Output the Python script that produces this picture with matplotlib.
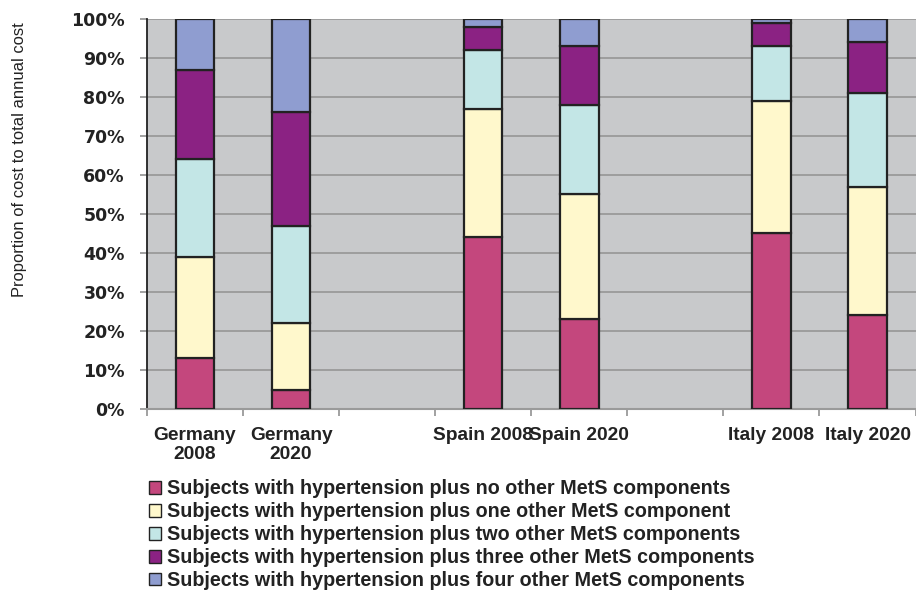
import numpy as np
import matplotlib
matplotlib.use("Agg")
import matplotlib.pyplot as plt

# categories along the x axis (blank slots separate the countries)
categories = ['Germany\n2008', 'Germany\n2020', '', 'Spain 2008', 'Spain 2020',
              '', 'Italy 2008', 'Italy 2020']

# share of total annual cost (%) for each group, nan for blank slots
no_other = [13, 5, np.nan, 44, 23, np.nan, 45, 24]
one_other = [26, 17, np.nan, 33, 32, np.nan, 34, 33]
two_other = [25, 25, np.nan, 15, 23, np.nan, 14, 24]
three_other = [23, 29, np.nan, 6, 15, np.nan, 6, 13]
four_other = [13, 24, np.nan, 2, 7, np.nan, 1, 6]

series_names = [
    'Subjects with hypertension plus no other MetS components',
    'Subjects with hypertension plus one other MetS component',
    'Subjects with hypertension plus two other MetS components',
    'Subjects with hypertension plus three other MetS components',
    'Subjects with hypertension plus four other MetS components',
]
colors = ['#c4477d', '#fff8cc', '#c3e6e6', '#8b2283', '#8f9dd0']

series = [no_other, one_other, two_other, three_other, four_other]

fig = plt.figure(figsize=(9.16, 5.94), dpi=100)
ax = fig.add_axes([0.1605, 0.3114, 0.839, 0.657])
ax.set_facecolor('#c8c9cb')

x = np.arange(len(categories))
bottom = np.zeros(len(categories))
for vals, name, col in zip(series, series_names, colors):
    vals = np.array(vals, dtype=float)
    mask = ~np.isnan(vals)
    ax.bar(x[mask], vals[mask], width=0.4, bottom=bottom[mask], color=col,
           edgecolor='#222222', linewidth=1.6, label=name, zorder=3)
    bottom[mask] += vals[mask]

ax.set_xlim(-0.5, len(categories) - 0.5)
ax.set_ylim(0, 100)
ax.set_yticks(np.arange(0, 101, 10))
ax.set_yticklabels(['%d%%' % v for v in range(0, 101, 10)],
                   fontfamily='DejaVu Sans', fontweight='bold', fontsize=12.5)
ax.yaxis.grid(True, color='#9a9a9a', linewidth=1.3, zorder=0)
ax.set_axisbelow(True)

# ticks on the slot boundaries, labels under slot centres
ax.set_xticks(np.arange(-0.5, len(categories), 1.0))
ax.set_xticklabels([])
ax.set_xticks(x, minor=True)
ax.set_xticklabels(categories, minor=True, fontfamily='Liberation Sans',
                   fontweight='bold', fontsize=13.8, color='#222222',
                   linespacing=1.15)
ax.tick_params(axis='x', which='minor', length=0, pad=13)
ax.tick_params(axis='x', which='major', length=5, color='#9a9a9a', width=1.3)
ax.tick_params(axis='y', length=5, color='#9a9a9a', width=1.3, pad=11,
               labelcolor='#222222')

for side in ['top', 'right']:
    ax.spines[side].set_visible(False)
ax.spines['left'].set_color('#222222')
ax.spines['left'].set_linewidth(1.3)
ax.spines['bottom'].set_color('#9a9a9a')
ax.spines['bottom'].set_linewidth(1.5)

fig.text(0.021, 0.731, 'Proportion of cost to total annual cost', rotation=90,
         ha='center', va='center', fontsize=11.9, fontfamily='Liberation Sans',
         color='#222222')

handles, labels = ax.get_legend_handles_labels()
leg = fig.legend(handles, labels, loc='upper left', bbox_to_anchor=(0.163, 0.193),
                 frameon=False, borderpad=0, borderaxespad=0,
                 handlelength=0.6, handleheight=0.6, handletextpad=0.3,
                 labelspacing=0.2,
                 prop={'family': 'Liberation Sans', 'weight': 'bold', 'size': 14.2})
for t in leg.get_texts():
    t.set_color('#222222')
for h in leg.legend_handles:
    h.set_linewidth(1.0)

fig.savefig('out.png', dpi=100)
